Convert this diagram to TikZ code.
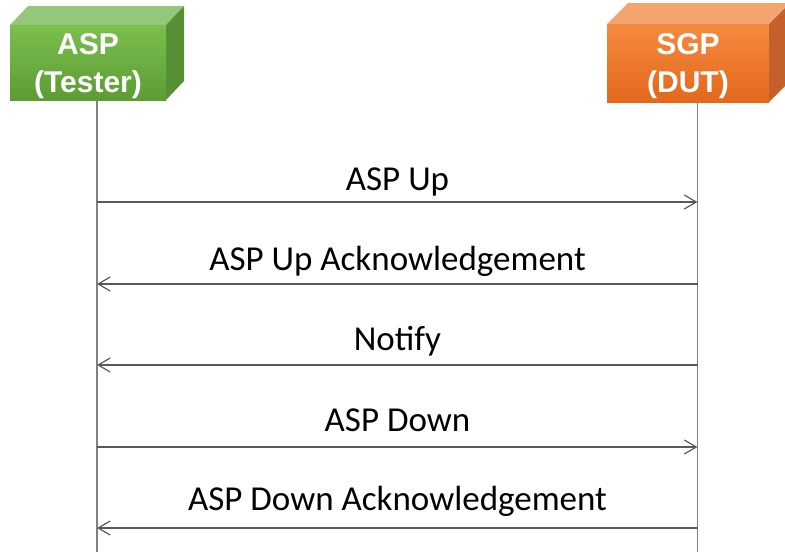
\documentclass[tikz,border=0pt]{standalone}
\usepackage{fontspec}
\setmainfont{Carlito}
\newfontfamily\boxfont{Liberation Sans}
\usetikzlibrary{arrows.meta,calc}
\definecolor{gfronttop}{HTML}{7BBF4E}
\definecolor{gfrontbot}{HTML}{5C9C34}
\definecolor{gtopface}{HTML}{94C77A}
\definecolor{gside}{HTML}{578F35}
\definecolor{ofronttop}{HTML}{F58A3E}
\definecolor{ofrontbot}{HTML}{E2681C}
\definecolor{otopface}{HTML}{F4A470}
\definecolor{oside}{HTML}{C4612A}
\definecolor{lifegray}{HTML}{808080}
\definecolor{msggray}{HTML}{595959}
\tikzset{
  actorbox/.style={minimum width=#1, inner sep=0pt, outer sep=0pt, align=center,
    text=white, font=\boxfont\bfseries\fontsize{30}{38}\selectfont},
  lifeline/.style={draw=lifegray, line width=1.2pt},
  msg/.style={draw=msggray, line width=1.3pt, -{Straight Barb[length=12pt,width=14pt,line width=1.2pt]}},
  msglabel/.style={anchor=base, inner sep=0pt, font=\fontsize{35}{40}\selectfont}
}
\begin{document}
\begin{tikzpicture}[x=1pt,y=1pt]
\useasboundingbox (0,0) rectangle (785,-552);
\clip (0,0) rectangle (785,-552);
% green box (ASP Tester)
\fill[gtopface] (10,-25) -- (166,-25) -- (184,-6) -- (28,-6) -- cycle;
\fill[gside] (166,-25) -- (184,-6) -- (184,-81) -- (166,-100) -- cycle;
\node[actorbox=156pt, minimum height=75pt, top color=gfronttop, bottom color=gfrontbot] (asp) at (88,-62.5) {};
\node[actorbox=156pt, anchor=base] (asptxt) at (88,-92) {ASP\\(Tester)};
% orange box (SGP DUT)
\fill[otopface] (607,-24) -- (769,-24) -- (790,-3) -- (628,-3) -- cycle;
\fill[oside] (769,-24) -- (790,-3) -- (790,-81) -- (769,-102) -- cycle;
\node[actorbox=162pt, minimum height=78pt, top color=ofronttop, bottom color=ofrontbot] (sgp) at (688,-63) {};
\node[actorbox=162pt, anchor=base] (sgptxt) at (688,-92) {SGP\\(DUT)};
% lifelines
\coordinate (aspTop) at (97,-100);
\coordinate (aspBot) at (97,-552);
\coordinate (sgpTop) at (697.5,-102);
\coordinate (sgpBot) at (697.5,-552);
\draw[lifeline] (aspTop) -- (aspBot);
\draw[lifeline] (sgpTop) -- (sgpBot);
% message anchors
\foreach \i/\y in {1/202,2/284,3/365,4/447,5/528}{
  \coordinate (a\i) at (97,-\y);
  \coordinate (s\i) at (697.5,-\y);
}
\draw[msg] (a1) -- (s1);
\draw[msg] (s2) -- (a2);
\draw[msg] (s3) -- (a3);
\draw[msg] (a4) -- (s4);
\draw[msg] (s5) -- (a5);
\node[msglabel] (l1) at (397.5,-190) {ASP Up};
\node[msglabel] (l2) at (397.5,-270) {ASP Up Acknowledgement};
\node[msglabel] (l3) at (397.5,-350) {Notify};
\node[msglabel] (l4) at (397.5,-431) {ASP Down};
\node[msglabel] (l5) at (397.5,-510) {ASP Down Acknowledgement};
\end{tikzpicture}
\end{document}
